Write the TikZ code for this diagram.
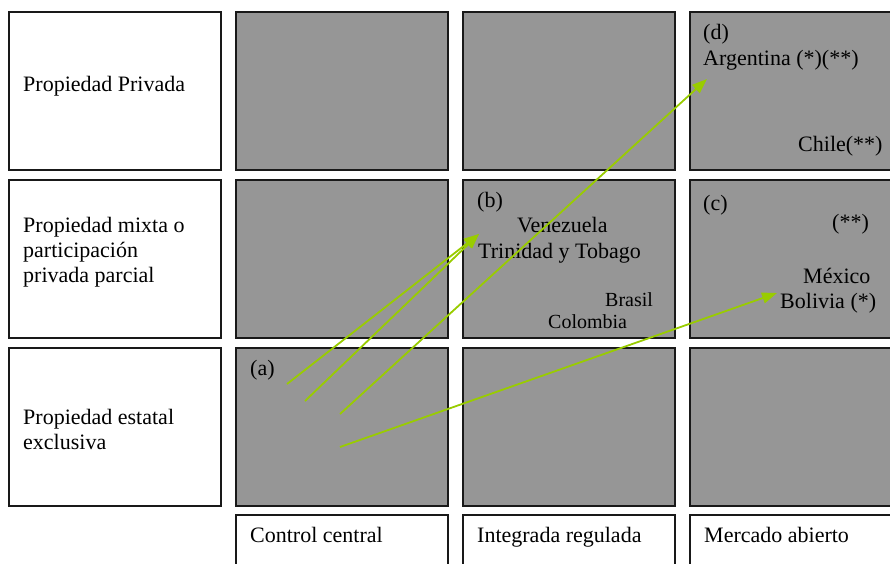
\documentclass[tikz,border=0pt]{standalone}
\usepackage{fontspec}
\setmainfont{Liberation Serif}
\usetikzlibrary{arrows.meta}
\definecolor{cellgray}{RGB}{150,150,150}
\definecolor{arrowgreen}{RGB}{153,204,0}
\begin{document}
\begin{tikzpicture}[x=1pt,y=-1pt,
  box/.style={rectangle,draw=black!90,line width=1.7pt,inner sep=0pt,
    minimum width=212pt,minimum height=158pt,anchor=north west},
  cell/.style={box,fill=cellgray},
  labelbox/.style={box,fill=white},
  txt/.style={inner sep=0pt,anchor=base west,font=\fontsize{22}{25}\selectfont},
  smalltxt/.style={inner sep=0pt,anchor=base west,font=\fontsize{20}{23}\selectfont},
  flow/.style={draw=arrowgreen,line width=1.8pt,-{Triangle[length=15pt,width=11pt]}}
]
\useasboundingbox (0,0) rectangle (890,563);
\begin{scope}
\clip (0,0) rectangle (890,563);
% row labels
\node[labelbox] (lrow1) at (8,11) {};
\node[labelbox] (lrow2) at (8,179) {};
\node[labelbox] (lrow3) at (8,347) {};
% column labels
\node[labelbox] (lcol1) at (235,514) {};
\node[labelbox] (lcol2) at (462,514) {};
\node[labelbox] (lcol3) at (689,514) {};
% grey cells
\node[cell] (c11) at (235,11) {};
\node[cell] (c12) at (462,11) {};
\node[cell] (c13) at (689,11) {};
\node[cell] (c21) at (235,179) {};
\node[cell] (c22) at (462,179) {};
\node[cell] (c23) at (689,179) {};
\node[cell] (c31) at (235,347) {};
\node[cell] (c32) at (462,347) {};
\node[cell] (c33) at (689,347) {};
\end{scope}
% row label texts
\node[txt] (t1) at (23,91) {Propiedad Privada};
\node[txt] (t2a) at (23,232) {Propiedad mixta o};
\node[txt] (t2b) at (23,257) {participación};
\node[txt] (t2c) at (23,282) {privada parcial};
\node[txt] (t3a) at (23,424) {Propiedad estatal};
\node[txt] (t3b) at (23,449) {exclusiva};
% column label texts
\node[txt] (k1) at (250,542) {Control central};
\node[txt] (k2) at (477,542) {Integrada regulada};
\node[txt] (k3) at (704,542) {Mercado abierto};
% cell texts
\node[txt] (ta) at (250,375) {(a)};
\node[txt] (tb) at (477,207) {(b)};
\node[txt] (tven) at (517,232) {Venezuela};
\node[txt] (ttri) at (478,258) {Trinidad y Tobago};
\node[smalltxt] (tbra) at (605,306) {Brasil};
\node[smalltxt] (tcol) at (548,328) {Colombia};
\node[txt] (td) at (703,39) {(d)};
\node[txt] (targ) at (703,65) {Argentina (*)(**)};
\node[txt] (tchi) at (798,151) {Chile(**)};
\node[txt] (tc) at (703,210) {(c)};
\node[txt] (tss) at (832,229) {(**)};
\node[txt] (tmex) at (803,283) {México};
\node[txt] (tbol) at (780,308) {Bolivia (*)};
% arrows
\coordinate (s1) at (287,384);
\coordinate (s2) at (305,401);
\coordinate (s3) at (340,414);
\coordinate (s4) at (340,447);
\coordinate (eb) at (479,234);
\coordinate (ed) at (707,79);
\coordinate (ec) at (777,293);
\draw[flow] (s1) -- (eb);
\draw[flow] (s2) -- (eb);
\draw[flow] (s3) -- (ed);
\draw[flow] (s4) -- (ec);
\end{tikzpicture}
\end{document}
